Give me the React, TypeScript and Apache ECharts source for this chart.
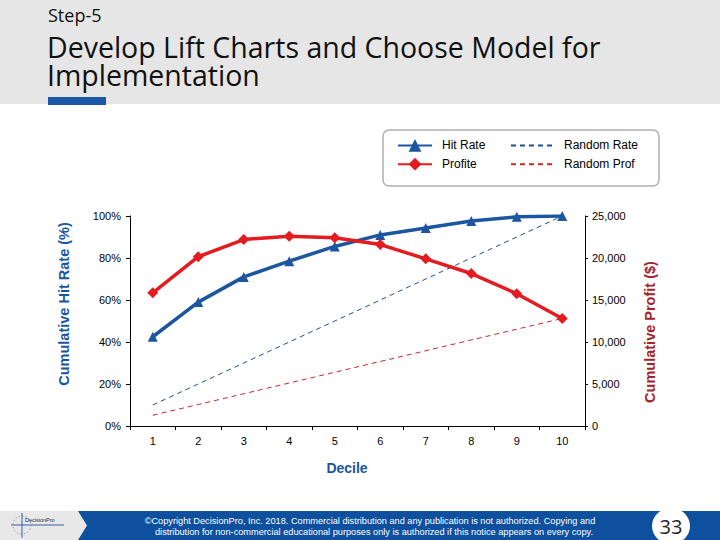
import React, { useEffect, useRef } from "react";
import * as echarts from "echarts";

const deciles = ["1", "2", "3", "4", "5", "6", "7", "8", "9", "10"];
const hitRate = [42.5, 59, 71, 78.5, 85.5, 91, 94.3, 97.6, 99.6, 100];
const profit = [15850, 20150, 22200, 22600, 22400, 21600, 19900, 18150, 15750, 12800];
const randomRate = [10, 20, 30, 40, 50, 60, 70, 80, 90, 100];
const randomProf = [1280, 2560, 3840, 5120, 6400, 7680, 8960, 10240, 11520, 12800];

const BLUE = "#1d56a0";
const RED = "#e41b20";
const FOOT_BLUE = "#0e509e";

export default function App() {
  const ref = useRef<HTMLDivElement>(null);
  useEffect(() => {
    if (!ref.current) return;
    const chart = echarts.init(ref.current, null, { renderer: "svg" });
    const tickFont = { fontFamily: "Liberation Sans", fontSize: 11, color: "#000" };
    chart.setOption({
      animation: false,
      backgroundColor: "#ffffff",
      grid: { left: 130, right: 135, top: 216, bottom: 114, containLabel: false },
      xAxis: {
        type: "category",
        data: deciles,
        boundaryGap: true,
        axisLine: { lineStyle: { color: "#000", width: 1 } },
        axisTick: { show: true, length: 4, lineStyle: { color: "#000" } },
        axisLabel: { ...tickFont, margin: 9 },
        splitLine: { show: false },
      },
      yAxis: [
        {
          type: "value",
          min: 0,
          max: 100,
          interval: 20,
          position: "left",
          axisLine: { show: true, lineStyle: { color: "#000" } },
          axisTick: { show: true, length: 4, lineStyle: { color: "#000" } },
          axisLabel: { ...tickFont, margin: 9, formatter: "{value}%" },
          splitLine: { show: false },
        },
        {
          type: "value",
          min: 0,
          max: 25000,
          interval: 5000,
          position: "right",
          axisLine: { show: true, lineStyle: { color: "#000" } },
          axisTick: { show: true, length: 3, lineStyle: { color: "#000" } },
          axisLabel: {
            ...tickFont,
            margin: 7,
            formatter: (v: number) => v.toLocaleString("en-US"),
          },
          splitLine: { show: false },
        },
      ],
      legend: [
        {
          orient: "vertical",
          left: 392,
          top: 134,
          itemWidth: 34,
          itemHeight: 16,
          itemGap: 6,
          data: ["Hit Rate", "Profite"],
          textStyle: { fontFamily: "Liberation Sans", fontSize: 12, color: "#000", padding: [0, 0, 0, 5] },
        },
        {
          orient: "vertical",
          left: 505,
          top: 134,
          itemWidth: 45,
          itemHeight: 16,
          itemGap: 6,
          data: [
            { name: "Random Rate", itemStyle: { opacity: 0 } },
            { name: "Random Prof", itemStyle: { opacity: 0 } },
          ],
          textStyle: { fontFamily: "Liberation Sans", fontSize: 12, color: "#000", padding: [0, 0, 0, 3] },
        },
      ],
      series: [
        {
          name: "Random Rate",
          type: "line",
          yAxisIndex: 0,
          data: randomRate,
          symbol: "none",
          lineStyle: { color: "#21508f", width: 1, type: [5, 4] },
          itemStyle: { color: "#21508f" },
          z: 1,
        },
        {
          name: "Random Prof",
          type: "line",
          yAxisIndex: 1,
          data: randomProf,
          symbol: "none",
          lineStyle: { color: "#c8282a", width: 1, type: [5, 4] },
          itemStyle: { color: "#c8282a" },
          z: 1,
        },
        {
          name: "Hit Rate",
          type: "line",
          yAxisIndex: 0,
          data: hitRate,
          symbol: "triangle",
          symbolSize: 10,
          lineStyle: { color: BLUE, width: 3.5 },
          itemStyle: { color: BLUE },
          z: 3,
        },
        {
          name: "Profite",
          type: "line",
          yAxisIndex: 1,
          data: profit,
          symbol: "diamond",
          symbolSize: 11,
          lineStyle: { color: RED, width: 3.5 },
          itemStyle: { color: RED },
          z: 4,
        },
      ],
      graphic: [
        // header
        { type: "rect", shape: { x: 0, y: 0, width: 720, height: 104 }, style: { fill: "#e6e6e6" }, z: -10 },
        { type: "rect", shape: { x: 48, y: 97, width: 58, height: 8 }, style: { fill: "#1a56a3" }, z: -9 },
        {
          type: "text",
          x: 48,
          y: 15,
          style: {
            text: "Step-5",
            fontFamily: "Open Sans",
            fontSize: 18,
            lineHeight: 18,
            fill: "#111",
            textVerticalAlign: "middle",
          },
        },
        {
          type: "text",
          x: 47,
          y: 47,
          style: {
            text: "Develop Lift Charts and Choose Model for",
            fontFamily: "Open Sans",
            fontSize: 28.5,
            lineHeight: 28,
            fill: "#111",
            textVerticalAlign: "middle",
          },
        },
        {
          type: "text",
          x: 47,
          y: 75,
          style: {
            text: "Implementation",
            fontFamily: "Open Sans",
            fontSize: 28.5,
            lineHeight: 28,
            fill: "#111",
            textVerticalAlign: "middle",
          },
        },
        // legend box
        {
          type: "rect",
          shape: { x: 383, y: 130, width: 276, height: 56, r: 6 },
          style: { fill: "#ffffff", stroke: "#b0b0b0", lineWidth: 1.5 },
          z: -1,
        },
        // axis names
        {
          type: "text",
          x: 64,
          y: 304,
          rotation: Math.PI / 2,
          style: {
            text: "Cumulative Hit Rate (%)",
            fontFamily: "Liberation Sans",
            fontWeight: "bold",
            fontSize: 14.5,
            fill: "#1a56a0",
            textAlign: "center",
            textVerticalAlign: "middle",
          },
        },
        {
          type: "text",
          x: 650,
          y: 332,
          rotation: Math.PI / 2,
          style: {
            text: "Cumulative Profit ($)",
            fontFamily: "Liberation Sans",
            fontWeight: "bold",
            fontSize: 14.5,
            fill: "#a3242a",
            textAlign: "center",
            textVerticalAlign: "middle",
          },
        },
        {
          type: "text",
          x: 347,
          y: 468,
          style: {
            text: "Decile",
            fontFamily: "Liberation Sans",
            fontWeight: "bold",
            fontSize: 14,
            fill: "#1a56a0",
            textAlign: "center",
            textVerticalAlign: "middle",
          },
        },
        // footer
        { type: "rect", shape: { x: 0, y: 511, width: 720, height: 29 }, style: { fill: "#e8e8e8" }, z: -5 },
        {
          type: "polygon",
          shape: { points: [[78, 511], [720, 511], [720, 540], [78, 540], [87, 525.5]] },
          style: { fill: FOOT_BLUE },
          z: -4,
        },
        {
          type: "text",
          x: 370,
          y: 521,
          style: {
            text: "©Copyright DecisionPro, Inc. 2018. Commercial distribution and any publication is not authorized. Copying and",
            fontFamily: "Liberation Sans",
            fontSize: 9.2,
            lineHeight: 10,
            fill: "#ffffff",
            textAlign: "center",
            textVerticalAlign: "middle",
          },
        },
        {
          type: "text",
          x: 374,
          y: 532,
          style: {
            text: "distribution for non-commercial educational purposes only is authorized if this notice appears on every copy.",
            fontFamily: "Liberation Sans",
            fontSize: 9.2,
            lineHeight: 10,
            fill: "#ffffff",
            textAlign: "center",
            textVerticalAlign: "middle",
          },
        },
        { type: "ellipse", shape: { cx: 671, cy: 526, rx: 19, ry: 18 }, style: { fill: "#ffffff" }, z: -3 },
        {
          type: "text",
          x: 671,
          y: 526,
          style: {
            text: "33",
            fontFamily: "Open Sans",
            fontSize: 20,
            fill: "#222",
            textAlign: "center",
            textVerticalAlign: "middle",
          },
        },
        // logo
        { type: "line", shape: { x1: 11, y1: 525, x2: 64, y2: 525 }, style: { stroke: "#3b5ea8", lineWidth: 1 } },
        { type: "line", shape: { x1: 22, y1: 513, x2: 22, y2: 538 }, style: { stroke: "#3b5ea8", lineWidth: 1 } },
        {
          type: "circle",
          shape: { cx: 22, cy: 525, r: 9 },
          style: { fill: "none", stroke: "#6b7fb5", lineWidth: 0.8, lineDash: [1.5, 2] },
        },
        {
          type: "text",
          x: 25,
          y: 520,
          style: { text: "DecisionPro", fontFamily: "Liberation Sans", fontSize: 5.5, fill: "#1a2a55", textVerticalAlign: "middle" },
        },
      ],
    });
    return () => chart.dispose();
  }, []);
  return (
    <div
      ref={ref}
      style={{ position: "fixed", left: 0, top: 0, width: 720, height: 540, background: "#fff" }}
    />
  );
}
